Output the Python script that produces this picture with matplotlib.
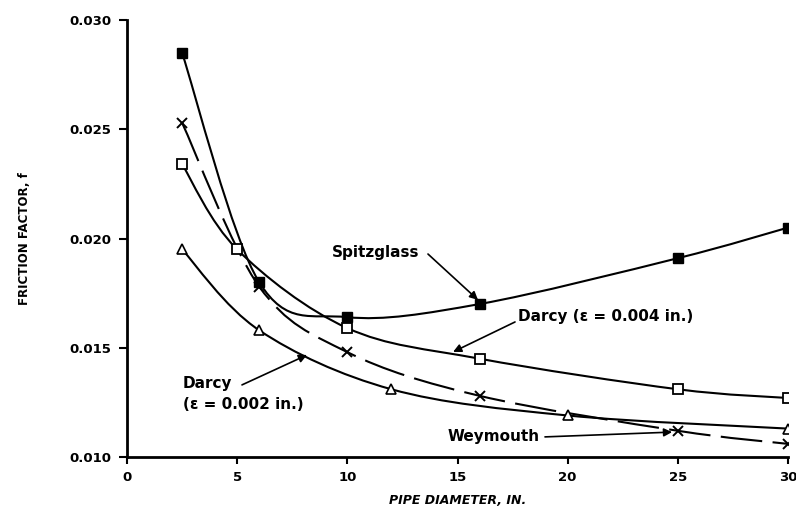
"""Friction factor vs pipe diameter"""
import matplotlib
matplotlib.use("Agg")
import matplotlib.pyplot as plt
from matplotlib.path import Path
from matplotlib.patches import PathPatch
import numpy as np

# Datos
spitz_x = [2.5, 6, 10, 16, 25, 30]
spitz_y = [0.0285, 0.0180, 0.0164, 0.0170, 0.0191, 0.0205]

darcy4_x = [2.5, 5, 10, 16, 25, 30]
darcy4_y = [0.0234, 0.0195, 0.0159, 0.0145, 0.0131, 0.0127]

darcy2_x = [2.5, 6, 12, 20, 30]
darcy2_y = [0.0195, 0.0158, 0.0131, 0.0119, 0.0113]

weym_x = [2.5, 6, 10, 16, 25, 30]
weym_y = [0.0253, 0.0178, 0.0148, 0.0128, 0.0112, 0.0106]

X_TICKS = [0, 5, 10, 15, 20, 25, 30]
Y_TICKS = [0.010, 0.015, 0.020, 0.025, 0.030]

FUENTE = "DejaVu Sans"


def _curva_suave(eje, xs, ys, **kwargs):
    # Dibuja una curva Bezier (Catmull-Rom) que pasa por los puntos
    p = np.column_stack([xs, ys]).astype(float)
    ext = np.vstack([p[0], p, p[-1]])
    verts = [tuple(p[0])]
    codes = [Path.MOVETO]
    for i in range(1, len(ext) - 2):
        p0, p1, p2, p3 = ext[i - 1], ext[i], ext[i + 1], ext[i + 2]
        c1 = p1 + (p2 - p0) / 6.0
        c2 = p2 - (p3 - p1) / 6.0
        verts += [tuple(c1), tuple(c2), tuple(p2)]
        codes += [Path.CURVE4] * 3
    parche = PathPatch(Path(verts, codes), fill=False, **kwargs)
    eje.add_patch(parche)
    return parche


figura = plt.figure(figsize=(7.96, 5.08), dpi=100)
eje = figura.add_axes([0.1595, 0.1004, 0.8305, 0.8602])

_curva_suave(eje, spitz_x, spitz_y, color="black", lw=1.5)
_curva_suave(eje, darcy4_x, darcy4_y, color="black", lw=1.5)
_curva_suave(eje, darcy2_x, darcy2_y, color="black", lw=1.5)
_curva_suave(eje, weym_x, weym_y, color="black", lw=1.5,
             linestyle=(0, (20, 5)))

eje.plot(spitz_x, spitz_y, linestyle="none", marker="s", ms=7,
         color="black", zorder=5)
eje.plot(darcy4_x, darcy4_y, linestyle="none", marker="s", ms=6.5,
         mfc="white", mec="black", mew=1.3, zorder=5)
eje.plot(darcy2_x, darcy2_y, linestyle="none", marker="^", ms=6.5,
         mfc="white", mec="black", mew=1.2, zorder=5)
eje.plot(weym_x, weym_y, linestyle="none", marker="x", ms=7,
         color="black", mew=1.4, zorder=5)

eje.set_xlim(0, 30)
eje.set_ylim(0.010, 0.030)
eje.set_xticks(X_TICKS)
eje.set_yticks(Y_TICKS)
eje.set_xticklabels([str(v) for v in X_TICKS], fontfamily=FUENTE,
                    fontweight="bold", fontsize=9.5)
eje.set_yticklabels(["{0:.3f}".format(v) for v in Y_TICKS],
                    fontfamily=FUENTE, fontweight="bold", fontsize=9.5)
for lado in ["top", "right"]:
    eje.spines[lado].set_visible(False)
for lado in ["left", "bottom"]:
    eje.spines[lado].set_linewidth(2)
eje.tick_params(axis="x", direction="out", length=5, width=1.5, pad=5)
eje.tick_params(axis="y", direction="out", length=6, width=1.5, pad=5)

eje.set_xlabel("PIPE DIAMETER, IN.", fontfamily=FUENTE, fontweight="bold",
               fontstyle="italic", fontsize=9, labelpad=7)
eje.set_ylabel("FRICTION FACTOR, f", fontfamily=FUENTE, fontweight="bold",
               fontsize=8.5, labelpad=28)

flecha = dict(arrowstyle="-|>", color="black", lw=1.2,
              mutation_scale=12, shrinkA=0, shrinkB=0)
estilo = dict(fontfamily=FUENTE, fontsize=11, fontweight="semibold",
              color="black")

eje.text(9.3, 0.01938, "Spitzglass", ha="left", va="center", **estilo)
eje.annotate("", xy=(15.93, 0.01719), xytext=(13.66, 0.01929),
             arrowprops=flecha)

eje.text(17.75, 0.01641, "Darcy (\u03b5 = 0.004 in.)", ha="left",
         va="center", **estilo)
eje.annotate("", xy=(14.80, 0.01481), xytext=(17.61, 0.01618),
             arrowprops=flecha)

eje.text(2.54, 0.01288, "Darcy\n(\u03b5 = 0.002 in.)", ha="left",
         va="center", linespacing=1.5, **estilo)
eje.annotate("", xy=(8.17, 0.01467), xytext=(5.22, 0.01330),
             arrowprops=flecha)

eje.text(14.57, 0.01092, "Weymouth", ha="left", va="center", **estilo)
eje.annotate("", xy=(24.74, 0.01114), xytext=(18.97, 0.01092),
             arrowprops=flecha)

figura.savefig("out.png", dpi=100)
plt.close(figura)
